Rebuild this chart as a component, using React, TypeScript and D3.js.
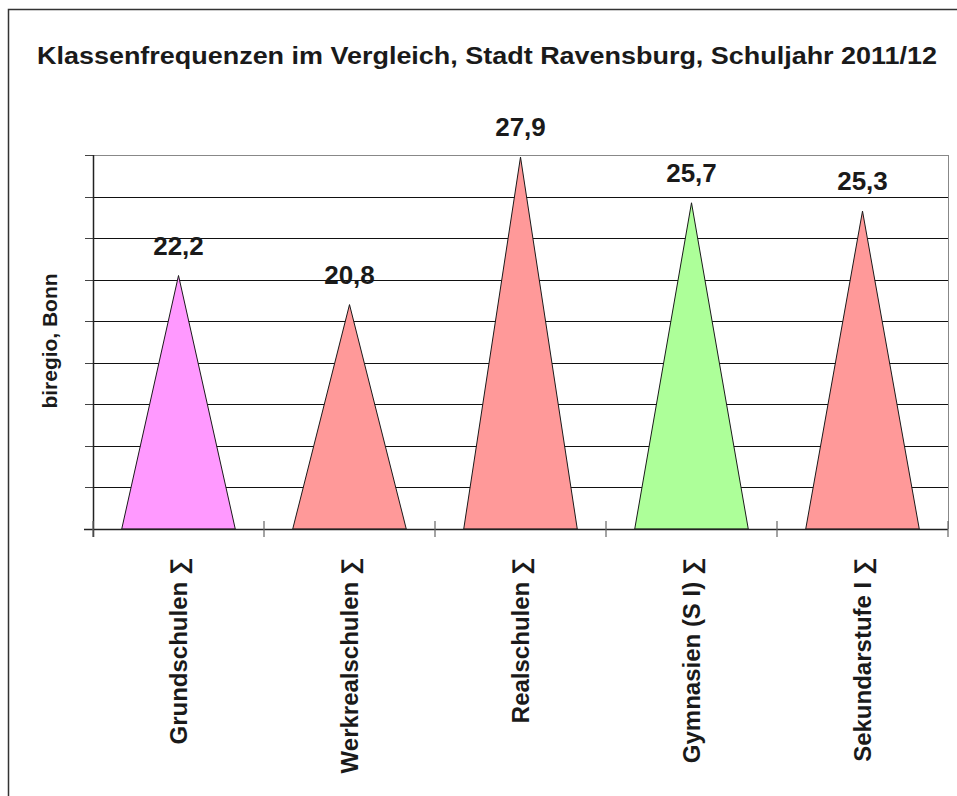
import React from "react";
import * as d3 from "d3";

const categories = ["Grundschulen ∑", "Werkrealschulen ∑", "Realschulen ∑", "Gymnasien (S I) ∑", "Sekundarstufe I ∑"];
const values = [22.2, 20.8, 27.9, 25.7, 25.3];
const colors = ["#FF99FF", "#FF9999", "#FF9999", "#ADFF99", "#FF9999"];
const valueLabels = ["22,2", "20,8", "27,9", "25,7", "25,3"];
const yTicks = [10, 12, 14, 16, 18, 20, 22, 24, 26, 28];
const title = "Klassenfrequenzen im Vergleich, Stadt Ravensburg, Schuljahr 2011/12";
const yTitle = "biregio, Bonn";

const W = 957, H = 796;
const left = 93, right = 948, top = 155, bottom = 529;
const font = "Liberation Sans, Arial, sans-serif";

export default function App() {
  const x = d3.scaleBand<string>().domain(categories).range([left, right]).paddingInner(0.336).paddingOuter(0.168);
  const y = d3.scaleLinear().domain([10, 28]).range([bottom, top]);
  const step = (right - left) / categories.length;
  const bounds = d3.range(categories.length + 1).map((i) => left + i * step);
  const tri = d3.line<[number, number]>();

  return (
    <svg width={W} height={H} style={{ position: "absolute", left: 0, top: 0, background: "#fff" }}>
      <rect x={8.5} y={9.5} width={960} height={800} fill="#fff" stroke="#333" strokeWidth={1.5} />
      <text x={487} y={64} textAnchor="middle" fontFamily={font} fontWeight="bold" fontSize={23} fill="#1a1a1a" textLength={900} lengthAdjust="spacingAndGlyphs">{title}</text>
      {/* gridlines */}
      {yTicks.slice(1, -1).map((t) => (
        <line key={t} x1={left} x2={right} y1={Math.round(y(t)) + 0.5} y2={Math.round(y(t)) + 0.5} stroke="#111" strokeWidth={1} />
      ))}
      <line x1={left} x2={right} y1={top + 0.5} y2={top + 0.5} stroke="#888" strokeWidth={1} />
      <line x1={right + 0.5} x2={right + 0.5} y1={top} y2={bottom} stroke="#888" strokeWidth={1} />
      {/* left ticks */}
      {yTicks.map((t) => (
        <line key={"t" + t} x1={85} x2={left} y1={Math.round(y(t)) + 0.5} y2={Math.round(y(t)) + 0.5} stroke="#444" strokeWidth={1} />
      ))}
      {/* triangles */}
      {categories.map((c, i) => {
        const x0 = x(c)!;
        const x1 = x0 + x.bandwidth();
        const cx = x0 + x.bandwidth() / 2;
        const d = tri([[x0, y(10)], [cx, y(values[i])], [x1, y(10)]]) + "Z";
        return <path key={c} d={d} fill={colors[i]} stroke="#1a1a1a" strokeWidth={1} />;
      })}
      {/* axes */}
      <line x1={left + 0.5} x2={left + 0.5} y1={top} y2={537} stroke="#222" strokeWidth={1.5} />
      <line x1={84} x2={right} y1={bottom + 0.5} y2={bottom + 0.5} stroke="#222" strokeWidth={1.5} />
      {bounds.map((b, i) => (
        <line key={"b" + i} x1={b} x2={b} y1={521} y2={537} stroke="#666" strokeWidth={1.2} />
      ))}
      {/* value labels */}
      {categories.map((c, i) => (
        <text key={"v" + c} x={x(c)! + x.bandwidth() / 2} y={y(values[i]) - 21} textAnchor="middle" fontFamily={font} fontWeight="bold" fontSize={26} fill="#1a1a1a">{valueLabels[i]}</text>
      ))}
      {/* category labels */}
      {categories.map((c) => {
        const cx = x(c)! + x.bandwidth() / 2 + 8.5;
        return (
          <text key={"c" + c} transform={`translate(${cx},558) rotate(-90)`} textAnchor="end" fontFamily={font} fontWeight="bold" fontSize={24} fill="#1a1a1a">{c}</text>
        );
      })}
      <text transform="translate(57,341) rotate(-90)" textAnchor="middle" fontFamily={font} fontWeight="bold" fontSize={20} fill="#1a1a1a" textLength={135} lengthAdjust="spacingAndGlyphs">{yTitle}</text>
    </svg>
  );
}
